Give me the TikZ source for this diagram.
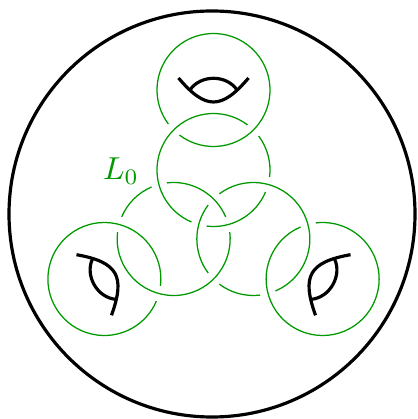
\documentclass[tikz,border=0pt]{standalone}
\usepackage{tikz}
\usetikzlibrary{positioning}

\begin{document}
\begin{tikzpicture}[
    x=0.315pt, y=0.315pt,
    ring/.style={draw=green!60!black, line width=0.4pt},
    strand/.style={draw=black, line width=1pt},
    bdry/.style={draw=black, line width=1pt},
    lbl/.style={text=green!60!black}
]
    \useasboundingbox (-213.5,-203) rectangle (203.5,216);
    % outer boundary
    \draw[bdry] (-1.5,2) circle[radius=203];
    % three copies: inner ring, outer ring, strands
    \foreach \a in {0,120,240} {
      \begin{scope}[rotate=\a]
        \foreach \s/\e in {45/255, 255/345, 345/405}
          \draw[ring] (0,46) ++(\s+8:56.5) arc[start angle=\s+8, end angle=\e-8, radius=56.5];
        \draw[ring] (0,126) ++(233:56.5) arc[start angle=233, end angle=577, radius=56.5];
        \draw[strand] (-35,138) .. controls (-8,106) and (8,106) .. (35,138);
        \draw[strand] (-23.5,126) .. controls (-13,141.6) and (13,141.6) .. (23.5,126);
      \end{scope}
    }
    \node[lbl, anchor=base] (L0) at (-92.5,36) {$L_0$};
\end{tikzpicture}
\end{document}
